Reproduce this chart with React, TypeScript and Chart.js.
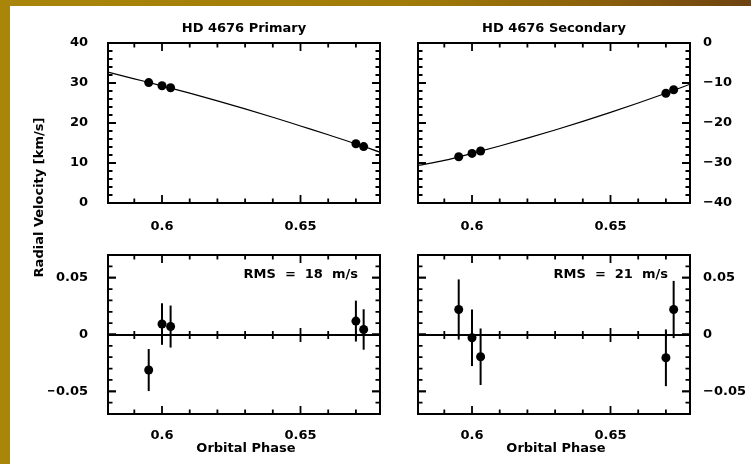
import React, { useEffect, useRef } from 'react';
import { Chart, registerables } from 'chart.js';

Chart.register(...registerables);

const W = 751;
const H = 464;
const FONT = '"DejaVu Sans", sans-serif';

// ---- data ----
const PHASE = [0.5952, 0.6, 0.6031, 0.67, 0.6728];
const PRIMARY_RV = [30.1, 29.3, 28.8, 14.8, 14.1];
const SECONDARY_RV = [-28.45, -27.6, -27.0, -12.55, -11.7];

const MODEL_PHASE = [0.5805, 0.59, 0.6, 0.61, 0.62, 0.63, 0.64, 0.65, 0.66, 0.67, 0.6787];
const PRIMARY_MODEL = [32.7, 31.05, 29.3, 27.45, 25.55, 23.55, 21.45, 19.25, 17.05, 14.8, 12.7];
const SECONDARY_MODEL = [-30.6, -29.35, -27.6, -25.75, -23.8, -21.75, -19.6, -17.35, -15.0, -12.55, -10.3];

const PRIMARY_RES = [-0.0313, 0.0092, 0.007, 0.0118, 0.0044];
const PRIMARY_ERR = [0.0185, 0.0183, 0.0185, 0.018, 0.0178];
const SECONDARY_RES = [0.022, -0.0029, -0.0196, -0.0205, 0.022];
const SECONDARY_ERR = [0.0265, 0.0249, 0.0249, 0.025, 0.0252];

// ---- axes ----
const X_MIN = 0.5805;
const X_MAX = 0.6787;
const PHASE_TICKS = [0.59, 0.6, 0.61, 0.62, 0.63, 0.64, 0.65, 0.66, 0.67];
const PHASE_LABELS = [0.6, 0.65];

const RV1_TICKS = [2, 4, 6, 8, 10, 12, 14, 16, 18, 20, 22, 24, 26, 28, 30, 32, 34, 36, 38];
const RV1_LABELS = [0, 10, 20, 30, 40];
const RV2_TICKS = [-38, -36, -34, -32, -30, -28, -26, -24, -22, -20, -18, -16, -14, -12, -10, -8, -6, -4, -2];
const RV2_LABELS = [-40, -30, -20, -10, 0];
const RES_TICKS = [-0.06, -0.05, -0.04, -0.03, -0.02, -0.01, 0, 0.01, 0.02, 0.03, 0.04, 0.05, 0.06];
const RES_LABELS = [-0.05, 0, 0.05];

const TITLE_PRIMARY = 'HD 4676 Primary';
const TITLE_SECONDARY = 'HD 4676 Secondary';
const X_TITLE = 'Orbital Phase';
const Y_TITLE = 'Radial Velocity [km/s]';
const NOTE_PRIMARY = 'RMS  =  18  m/s';
const NOTE_SECONDARY = 'RMS  =  21  m/s';

interface PanelSpec {
  rect: [number, number, number, number];
  yMin: number;
  yMax: number;
  yTicks: number[];
  yLabels: number[];
  yPos: 'left' | 'right';
  obsY: number[];
  modelY?: number[];
  err?: number[];
  zeroLine: boolean;
  title?: string;
  xTitle?: string;
  note?: string;
  yTitle?: string;
  xPad: number;
}

const SPECS: PanelSpec[] = [
  {
    rect: [108, 43, 380, 203], yMin: 0, yMax: 40, yTicks: RV1_TICKS, yLabels: RV1_LABELS,
    yPos: 'left', obsY: PRIMARY_RV, modelY: PRIMARY_MODEL, zeroLine: false,
    title: TITLE_PRIMARY, yTitle: Y_TITLE, xPad: 7,
  },
  {
    rect: [418, 43, 690, 203], yMin: -40, yMax: 0, yTicks: RV2_TICKS, yLabels: RV2_LABELS,
    yPos: 'right', obsY: SECONDARY_RV, modelY: SECONDARY_MODEL, zeroLine: false,
    title: TITLE_SECONDARY, xPad: 7,
  },
  {
    rect: [108, 255, 380, 414], yMin: -0.07, yMax: 0.07, yTicks: RES_TICKS, yLabels: RES_LABELS,
    yPos: 'left', obsY: PRIMARY_RES, err: PRIMARY_ERR, zeroLine: true,
    xTitle: X_TITLE, note: NOTE_PRIMARY, xPad: 5,
  },
  {
    rect: [418, 255, 690, 414], yMin: -0.07, yMax: 0.07, yTicks: RES_TICKS, yLabels: RES_LABELS,
    yPos: 'right', obsY: SECONDARY_RES, err: SECONDARY_ERR, zeroLine: true,
    xTitle: X_TITLE, note: NOTE_SECONDARY, xPad: 5,
  },
];

const AXIS_W = 60;
const AXIS_H = 30;
const TEXT_FONT = `bold 13px ${FONT}`;

const fmt = (v: number) => String(Math.round(v * 1000) / 1000).replace('-', '\u2212');
const isIn = (arr: number[], v: number) => arr.some((a) => Math.abs(a - v) < 1e-9);

function framePlugin(spec: PanelSpec) {
  return {
    id: 'pgframe',
    beforeDatasetsDraw(chart: any) {
      const ctx = chart.ctx as CanvasRenderingContext2D;
      const xs = chart.scales.x;
      const ys = chart.scales.y;
      const { left, right } = chart.chartArea;
      ctx.save();
      ctx.strokeStyle = '#000';
      if (spec.zeroLine) {
        const y0 = Math.round(ys.getPixelForValue(0));
        ctx.lineWidth = 2;
        ctx.beginPath();
        ctx.moveTo(left, y0);
        ctx.lineTo(right, y0);
        ctx.stroke();
        ctx.lineWidth = 1.8;
        PHASE_TICKS.forEach((t) => {
          const px = xs.getPixelForValue(t);
          const len = isIn(PHASE_LABELS, t) ? 7 : 4;
          ctx.beginPath();
          ctx.moveTo(px, y0 - len);
          ctx.lineTo(px, y0 + len);
          ctx.stroke();
        });
      }
      if (spec.err) {
        ctx.lineWidth = 2;
        PHASE.forEach((x, i) => {
          const px = xs.getPixelForValue(x);
          ctx.beginPath();
          ctx.moveTo(px, ys.getPixelForValue(spec.obsY[i] - spec.err![i]));
          ctx.lineTo(px, ys.getPixelForValue(spec.obsY[i] + spec.err![i]));
          ctx.stroke();
        });
      }
      ctx.restore();
    },
    afterDatasetsDraw(chart: any) {
      const ctx = chart.ctx as CanvasRenderingContext2D;
      const xs = chart.scales.x;
      const ys = chart.scales.y;
      const { left, right, top, bottom } = chart.chartArea;
      ctx.save();
      ctx.strokeStyle = '#000';
      ctx.fillStyle = '#000';
      ctx.lineWidth = 2;
      ctx.strokeRect(left, top, right - left, bottom - top);
      ctx.lineWidth = 1.8;
      PHASE_TICKS.forEach((t) => {
        const px = xs.getPixelForValue(t);
        const len = isIn(PHASE_LABELS, t) ? 8 : 4.5;
        ctx.beginPath();
        ctx.moveTo(px, top);
        ctx.lineTo(px, top + len);
        ctx.moveTo(px, bottom);
        ctx.lineTo(px, bottom - len);
        ctx.stroke();
      });
      [...spec.yTicks, ...spec.yLabels].forEach((t) => {
        const py = ys.getPixelForValue(t);
        const len = isIn(spec.yLabels, t) ? 8 : 4.5;
        ctx.beginPath();
        ctx.moveTo(left, py);
        ctx.lineTo(left + len, py);
        ctx.moveTo(right, py);
        ctx.lineTo(right - len, py);
        ctx.stroke();
      });
      ctx.font = TEXT_FONT;
      ctx.textBaseline = 'middle';
      const cx = (left + right) / 2;
      if (spec.title) {
        ctx.textAlign = 'center';
        ctx.fillText(spec.title, cx, top - 14.5);
      }
      if (spec.xTitle) {
        ctx.textAlign = 'center';
        ctx.fillText(spec.xTitle, cx + 2, bottom + 34.5);
      }
      if (spec.note) {
        ctx.textAlign = 'right';
        ctx.fillText(spec.note, right - 22, top + 20);
      }
      if (spec.yTitle) {
        ctx.save();
        ctx.translate(39.5, bottom - 5.5);
        ctx.rotate(-Math.PI / 2);
        ctx.textAlign = 'center';
        ctx.fillText(spec.yTitle, 0, 0);
        ctx.restore();
      }
      ctx.restore();
    },
  };
}

function buildConfig(spec: PanelSpec): any {
  const [l, t, r, b] = spec.rect;
  const padding =
    spec.yPos === 'left'
      ? { left: l - AXIS_W, right: W - r, top: t, bottom: H - b - AXIS_H }
      : { left: l, right: W - r - AXIS_W, top: t, bottom: H - b - AXIS_H };
  const datasets: any[] = [];
  if (spec.modelY) {
    datasets.push({
      type: 'line',
      data: MODEL_PHASE.map((x, i) => ({ x, y: spec.modelY![i] })),
      borderColor: '#000',
      borderWidth: 1.2,
      pointRadius: 0,
      cubicInterpolationMode: 'monotone',
      fill: false,
    });
  }
  datasets.push({
    type: 'scatter',
    data: PHASE.map((x, i) => ({ x, y: spec.obsY[i] })),
    backgroundColor: '#000',
    borderColor: '#000',
    borderWidth: 0,
    pointRadius: 4.5,
  });
  const tickFont = { family: FONT, size: 13, weight: 'bold' };
  return {
    type: 'scatter',
    data: { datasets },
    options: {
      animation: false,
      responsive: false,
      events: [],
      layout: { padding },
      plugins: { legend: { display: false }, tooltip: { enabled: false } },
      scales: {
        x: {
          type: 'linear',
          position: 'bottom',
          min: X_MIN,
          max: X_MAX,
          grid: { display: false },
          border: { display: false },
          afterBuildTicks: (s: any) => {
            s.ticks = PHASE_LABELS.map((v) => ({ value: v }));
          },
          afterFit: (s: any) => {
            s.height = AXIS_H;
          },
          ticks: {
            color: '#000',
            font: tickFont,
            padding: spec.xPad + 0.5,
            maxRotation: 0,
            autoSkip: false,
            callback: (v: number) => fmt(v),
          },
        },
        y: {
          type: 'linear',
          position: spec.yPos,
          min: spec.yMin,
          max: spec.yMax,
          grid: { display: false },
          border: { display: false },
          afterBuildTicks: (s: any) => {
            s.ticks = spec.yLabels.map((v) => ({ value: v }));
          },
          afterFit: (s: any) => {
            s.width = AXIS_W;
          },
          ticks: {
            color: '#000',
            font: tickFont,
            padding: spec.yPos === 'left' ? 12 : 5,
            autoSkip: false,
            callback: (v: number) => fmt(v),
          },
        },
      },
    },
    plugins: [framePlugin(spec)],
  };
}

function Panel({ spec }: { spec: PanelSpec }) {
  const ref = useRef<HTMLCanvasElement>(null);
  useEffect(() => {
    const chart = new Chart(ref.current as HTMLCanvasElement, buildConfig(spec));
    return () => chart.destroy();
  }, [spec]);
  return (
    <canvas
      ref={ref}
      width={W}
      height={H}
      style={{ position: 'absolute', left: 0, top: 0, width: W, height: H }}
    />
  );
}

export default function App() {
  return (
    <div
      style={{
        position: 'fixed',
        left: 0,
        top: 0,
        width: W,
        height: H,
        overflow: 'hidden',
        background: 'linear-gradient(90deg, #a9860a 0%, #a17b08 55%, #8a5f0c 80%, #6d4210 100%)',
      }}
    >
      <div style={{ position: 'absolute', left: 10, top: 6, right: 0, bottom: 0, background: '#fff' }} />
      {SPECS.map((s, i) => (
        <Panel key={i} spec={s} />
      ))}
    </div>
  );
}
